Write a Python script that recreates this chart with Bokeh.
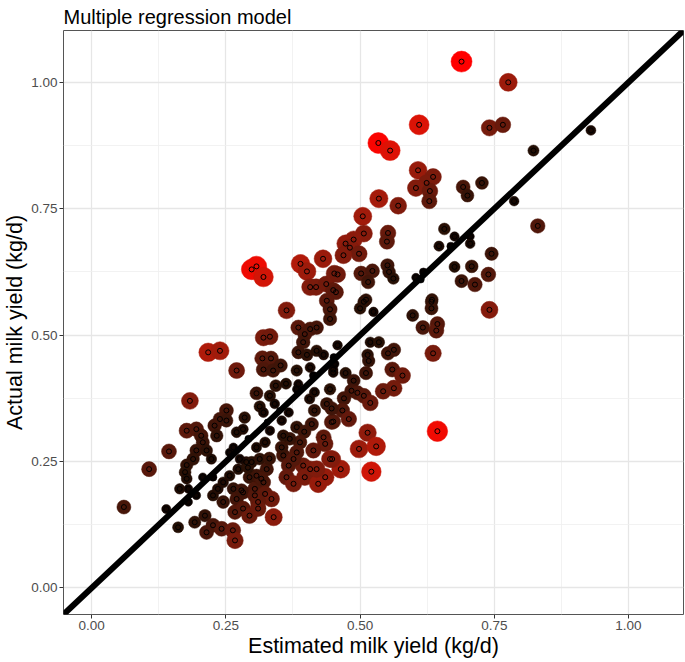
import numpy as np
from bokeh.plotting import figure
from bokeh.models import Slope, FixedTicker, Range1d, ColumnDataSource
from bokeh.embed import file_html
from bokeh.resources import INLINE

title_text = "Multiple regression model"
x_title = "Estimated milk yield (kg/d)"
y_title = "Actual milk yield (kg/d)"
tick_values = [0.0, 0.25, 0.5, 0.75, 1.0]
tick_labels = ["0.00", "0.25", "0.50", "0.75", "1.00"]
minor_values = [0.125, 0.375, 0.625, 0.875]

estimated = [
    0.298, 0.307, 0.320, 0.389, 0.401, 0.431, 0.407, 0.418, 0.437, 0.452, 0.450,
    0.689, 0.776, 0.610, 0.741, 0.766, 0.534, 0.556, 0.823, 0.608, 0.636, 0.624, 0.604,
    0.630, 0.629, 0.692, 0.700, 0.727, 0.787, 0.535, 0.571, 0.505, 0.831, 0.507, 0.552,
    0.550, 0.488, 0.473, 0.481, 0.498, 0.469, 0.657, 0.676, 0.647, 0.705, 0.705, 0.669,
    0.745, 0.676, 0.708, 0.739, 0.689, 0.714, 0.551, 0.554, 0.562, 0.502, 0.523, 0.515,
    0.458, 0.455, 0.604, 0.618, 0.613, 0.634, 0.511, 0.930,
    0.741, 0.507, 0.500, 0.525, 0.633, 0.633, 0.598, 0.617, 0.644, 0.642, 0.636, 0.458,
    0.451, 0.450, 0.519, 0.535, 0.514, 0.516, 0.511, 0.473, 0.552, 0.563, 0.560, 0.579,
    0.563, 0.543, 0.488, 0.484, 0.495, 0.507, 0.519, 0.470, 0.467, 0.479, 0.450, 0.514,
    0.498, 0.530, 0.644, 0.521, 0.464, 0.448,
    0.363, 0.217, 0.239, 0.270, 0.183, 0.144, 0.107, 0.060, 0.320, 0.332, 0.318, 0.334,
    0.320, 0.338, 0.352, 0.343, 0.332, 0.307, 0.313, 0.341, 0.385, 0.397, 0.394, 0.407,
    0.419, 0.438, 0.444, 0.444, 0.385, 0.401, 0.419, 0.432, 0.382, 0.407, 0.385, 0.415,
    0.406, 0.438, 0.415, 0.447, 0.382, 0.396, 0.410, 0.432, 0.435, 0.388, 0.369, 0.357,
    0.354, 0.367, 0.350, 0.320, 0.327, 0.332, 0.323, 0.307, 0.292, 0.282, 0.251, 0.229,
    0.239, 0.251, 0.270, 0.285, 0.177, 0.195, 0.204, 0.207, 0.195, 0.214, 0.223, 0.189,
    0.177, 0.174, 0.177, 0.180, 0.195, 0.164, 0.139, 0.161, 0.192, 0.211, 0.214, 0.226,
    0.242, 0.263, 0.267, 0.226, 0.235, 0.245, 0.245, 0.257, 0.273, 0.264, 0.270, 0.267,
    0.282, 0.294, 0.282, 0.294, 0.288, 0.276, 0.257, 0.264, 0.298, 0.313, 0.326, 0.307,
    0.320, 0.304, 0.304, 0.323, 0.335, 0.339, 0.310, 0.310, 0.226, 0.207, 0.357, 0.367,
    0.363, 0.376, 0.394, 0.407, 0.397, 0.422, 0.435, 0.419, 0.444, 0.413, 0.382, 0.376,
    0.354, 0.382, 0.413, 0.444, 0.450, 0.453, 0.447, 0.233,
    0.180, 0.331, 0.362, 0.291, 0.279, 0.316,
]
actual = [
    0.630, 0.636, 0.615, 0.641, 0.626, 0.651, 0.595, 0.595, 0.601, 0.622, 0.589,
    1.041, 1.000, 0.916, 0.910, 0.916, 0.880, 0.865, 0.865, 0.826, 0.813, 0.801, 0.791,
    0.785, 0.765, 0.793, 0.776, 0.801, 0.765, 0.770, 0.756, 0.735, 0.716, 0.701, 0.702,
    0.685, 0.689, 0.681, 0.673, 0.661, 0.658, 0.710, 0.695, 0.676, 0.695, 0.681, 0.676,
    0.661, 0.635, 0.636, 0.620, 0.607, 0.600, 0.638, 0.625, 0.612, 0.622, 0.627, 0.605,
    0.620, 0.585, 0.614, 0.625, 0.610, 0.570, 0.570, 0.905,
    0.550, 0.566, 0.553, 0.546, 0.566, 0.553, 0.539, 0.515, 0.522, 0.509, 0.464, 0.480,
    0.456, 0.432, 0.486, 0.486, 0.461, 0.449, 0.425, 0.425, 0.464, 0.471, 0.432, 0.420,
    0.395, 0.389, 0.410, 0.390, 0.386, 0.380, 0.366, 0.375, 0.351, 0.334, 0.329, 0.307,
    0.275, 0.280, 0.310, 0.230, 0.235, 0.255,
    0.549, 0.466, 0.469, 0.430, 0.370, 0.270, 0.235, 0.160, 0.495, 0.497, 0.454, 0.454,
    0.432, 0.430, 0.440, 0.400, 0.380, 0.385, 0.359, 0.364, 0.515, 0.502, 0.486, 0.512,
    0.515, 0.568, 0.551, 0.532, 0.466, 0.461, 0.469, 0.461, 0.430, 0.436, 0.403, 0.387,
    0.374, 0.364, 0.351, 0.328, 0.318, 0.309, 0.324, 0.298, 0.285, 0.288, 0.295, 0.301,
    0.331, 0.347, 0.351, 0.347, 0.328, 0.311, 0.288, 0.278, 0.295, 0.314, 0.351, 0.321,
    0.334, 0.331, 0.308, 0.337, 0.311, 0.314, 0.301, 0.288, 0.272, 0.272, 0.255, 0.255,
    0.243, 0.229, 0.216, 0.196, 0.183, 0.196, 0.156, 0.120, 0.130, 0.143, 0.110, 0.124,
    0.117, 0.114, 0.094, 0.183, 0.196, 0.170, 0.209, 0.222, 0.235, 0.196, 0.176, 0.150,
    0.157, 0.143, 0.189, 0.219, 0.249, 0.255, 0.268, 0.278, 0.249, 0.255, 0.235, 0.222,
    0.209, 0.196, 0.183, 0.186, 0.176, 0.140, 0.170, 0.157, 0.219, 0.219, 0.262, 0.242,
    0.219, 0.206, 0.242, 0.235, 0.219, 0.206, 0.219, 0.235, 0.255, 0.272, 0.268, 0.255,
    0.278, 0.393, 0.420, 0.393, 0.426, 0.443, 0.355, 0.301,
    0.170, 0.256, 0.404, 0.238, 0.193, 0.216,
]


def lab_gradient(t):
    # black -> red interpolated in CIE Lab (like ggplot's scale_colour_gradient)
    L = 53.2408 * t
    a = 80.0925 * t
    b = 67.2032 * t
    fy = (L + 16.0) / 116.0
    fx = fy + a / 500.0
    fz = fy - b / 200.0
    d = 6.0 / 29.0

    def finv(f):
        return np.where(f > d, f ** 3, 3 * d * d * (f - 4.0 / 29.0))

    X = 0.95047 * finv(fx)
    Y = 1.00000 * finv(fy)
    Z = 1.08883 * finv(fz)
    R = 3.2406 * X - 1.5372 * Y - 0.4986 * Z
    G = -0.9689 * X + 1.8758 * Y + 0.0415 * Z
    B = 0.0557 * X - 0.2040 * Y + 1.0570 * Z
    out = []
    for c in (R, G, B):
        c = np.clip(c, 0, 1)
        c = np.where(c > 0.0031308, 1.055 * np.power(c, 1 / 2.4) - 0.055, 12.92 * c)
        out.append(np.clip(np.round(c * 255), 0, 255).astype(int))
    return ["#%02x%02x%02x" % (r, g, bb) for r, g, bb in zip(*out)]


est = np.array(estimated)
act = np.array(actual)
res = np.abs(act - est)
t = (res - res.min()) / (res.max() - res.min())
colors = lab_gradient(t)
sizes = 6 + 15 * np.sqrt(t)

src = ColumnDataSource(dict(x=est, y=act, c=colors, s=sizes))

W, H = 685, 662
p = figure(width=W, height=H, output_backend="svg", toolbar_location=None,
           x_range=Range1d(-0.0525, 1.1025), y_range=Range1d(-0.0525, 1.1025),
           min_border_left=62, min_border_right=2,
           min_border_top=30, min_border_bottom=48)

p.title.text = title_text
p.title.text_font = "Liberation Sans"
p.title.text_font_size = "20px"
p.title.text_font_style = "normal"
p.title.text_color = "#000000"
p.title.align = "left"
p.title.standoff = 5
p.title.offset = 0

p.background_fill_color = "white"
p.border_fill_color = "white"
p.outline_line_color = "#555555"
p.outline_line_width = 1

ticker = FixedTicker(ticks=tick_values, minor_ticks=minor_values)
overrides = {v: lab for v, lab in zip(tick_values, tick_labels)}
for ax in (p.xaxis[0], p.yaxis[0]):
    ax.ticker = ticker
    ax.major_label_overrides = overrides
    ax.axis_line_color = None
    ax.major_tick_line_color = "#333333"
    ax.major_tick_out = 4
    ax.major_tick_in = 0
    ax.minor_tick_line_color = None
    ax.major_label_text_font = "Liberation Sans"
    ax.major_label_text_font_size = "13.5px"
    ax.major_label_text_color = "#4d4d4d"
    ax.major_label_standoff = 2
    ax.axis_label_text_font = "Liberation Sans"
    ax.axis_label_text_font_size = "21.5px"
    ax.axis_label_text_font_style = "normal"
    ax.axis_label_text_color = "#000000"
    ax.axis_label_standoff = 1
p.xaxis[0].axis_label = x_title
p.yaxis[0].axis_label = y_title
p.yaxis[0].major_label_orientation = "horizontal"

for g in (p.xgrid[0], p.ygrid[0]):
    g.ticker = ticker
    g.grid_line_color = "#e6e6e6"
    g.grid_line_width = 1.3
    g.minor_grid_line_color = "#efefef"
    g.minor_grid_line_width = 0.8

p.scatter("x", "y", source=src, marker="circle", size="s",
          fill_color="c", line_color="c", line_width=0.5)
p.scatter("x", "y", source=src, marker="circle", size=5,
          fill_color=None, line_color="black", line_width=1)

p.add_layout(Slope(gradient=1, y_intercept=0, line_color="black", line_width=6))

open("out.html", "w").write(file_html(p, INLINE))
